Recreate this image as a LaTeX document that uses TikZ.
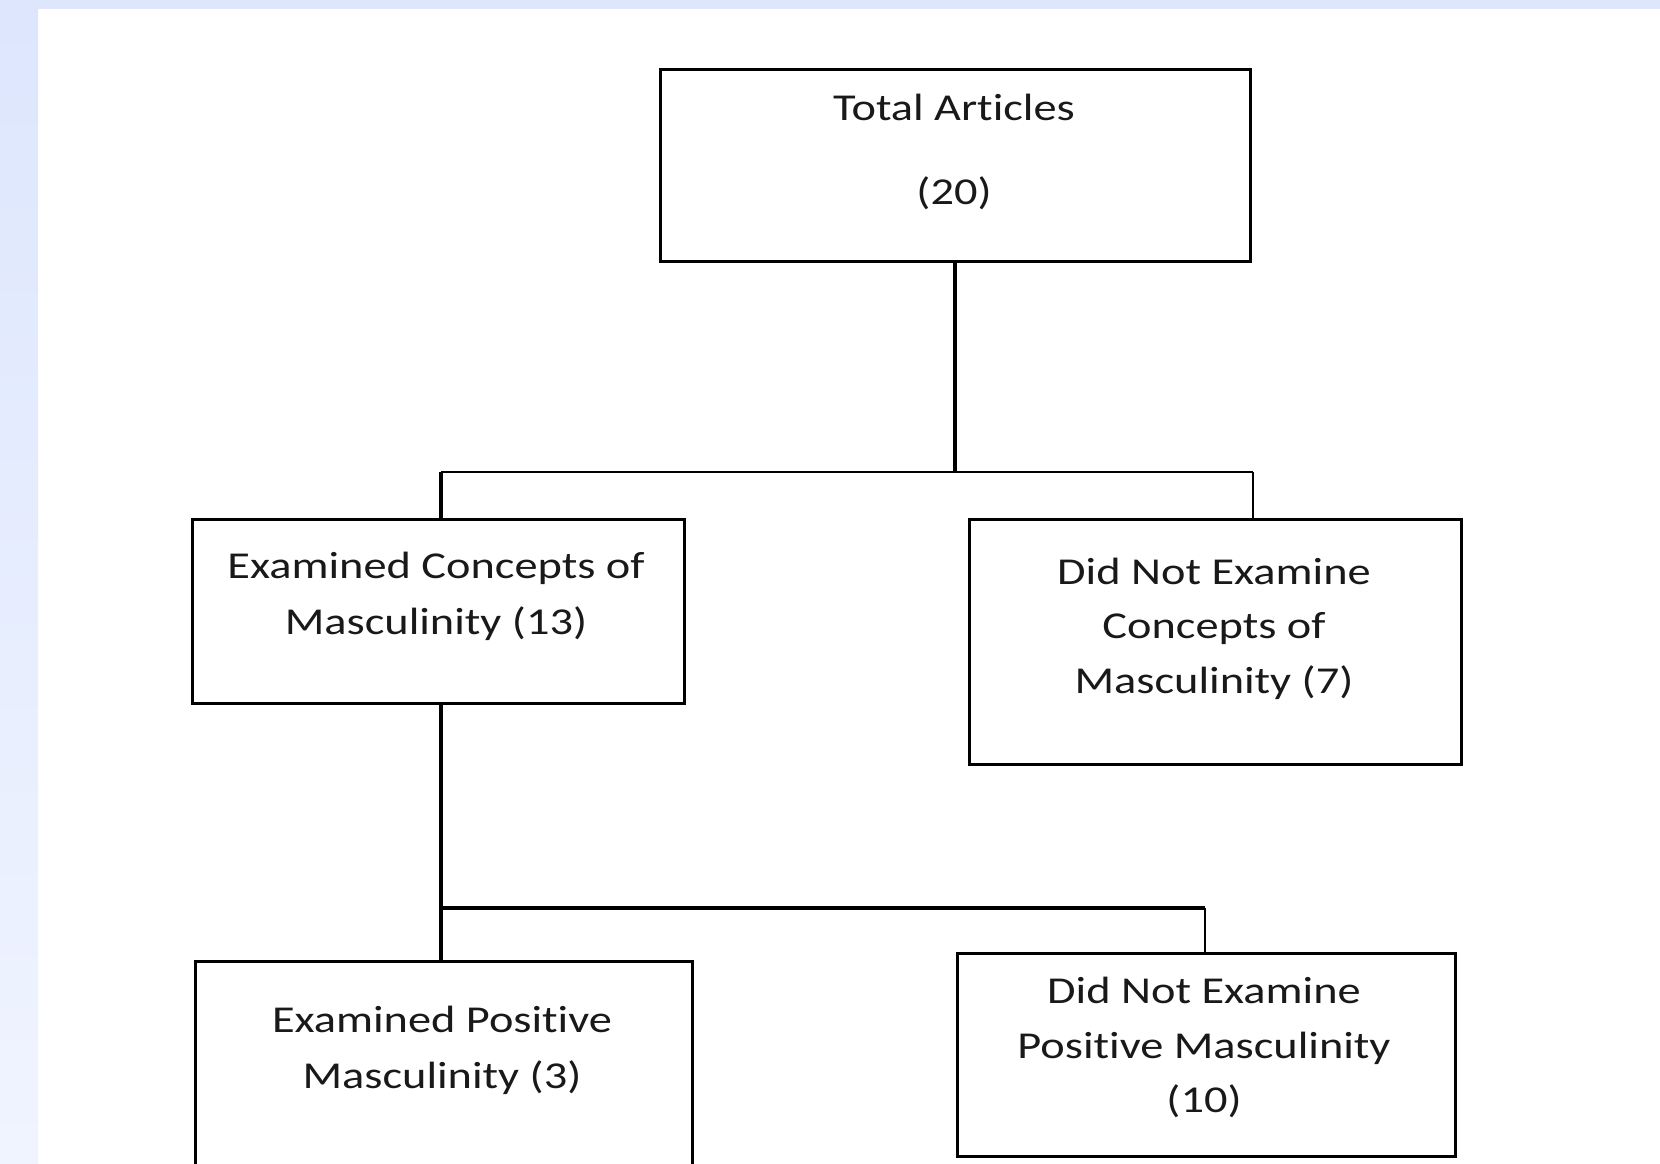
\documentclass[tikz,border=0pt]{standalone}
\usepackage{fontspec}
\newfontfamily\lblfont[FakeStretch=1.22,Ligatures=NoCommon]{Carlito}
\definecolor{bandblue}{HTML}{DDE6FD}
\definecolor{bandlight}{HTML}{F0F4FF}
\tikzset{
  box/.style={draw=black, line width=3pt, fill=none, inner sep=0pt},
  conn/.style={draw=black, line width=3.4pt},
  hconn/.style={draw=black, line width=2.6pt},
  lbl/.style={font=\lblfont\fontsize{38}{55}\selectfont, anchor=base, inner sep=0pt, text=black!90}
}
\begin{document}
\begin{tikzpicture}[x=1pt,y=-1pt]
\useasboundingbox (0,0) rectangle (1660,1164);
\clip (0,0) rectangle (1660,1164);
\fill[white] (0,0) rectangle (1660,1164);
\fill[bandblue] (0,0) rectangle (1660,9);
\shade[top color=bandblue, bottom color=bandlight] (0,0) rectangle (38,1164);

% boxes
\node[box, minimum width=590pt, minimum height=192pt] (top) at (955,165.5) {};
\node[box, minimum width=492pt, minimum height=184pt] (B) at (438,611) {};
\node[box, minimum width=492pt, minimum height=245pt] (C) at (1215,641.5) {};
\node[box, minimum width=497pt, minimum height=240pt] (D) at (443.5,1081) {};
\node[box, minimum width=498pt, minimum height=203pt] (E) at (1206,1054.5) {};

% texts
\node[lbl] (ta) at (954,121) {Total Articles};
\node[lbl] (tb) at (954,204) {(20)};
\node[lbl] (ba) at (436,578) {Examined Concepts of};
\node[lbl] (bb) at (436,634) {Masculinity (13)};
\node[lbl] (ca) at (1214,584) {Did Not Examine};
\node[lbl] (cb) at (1214,638) {Concepts of};
\node[lbl] (cc) at (1214,693) {Masculinity (7)};
\node[lbl] (da) at (442,1032) {Examined Positive};
\node[lbl] (db) at (442,1088) {Masculinity (3)};
\node[lbl] (ea) at (1204,1003) {Did Not Examine};
\node[lbl] (eb) at (1204,1058) {Positive Masculinity};
\node[lbl] (ec) at (1204,1112) {(10)};

% connectors
\coordinate (jl) at (441,472);
\coordinate (jr) at (1253,472);
\coordinate (kl) at (441,908);
\coordinate (kr) at (1205,908);
\draw[conn] (top.south) -- (top.south |- jl);
\draw[hconn] (jl) -- (jr);
\draw[conn] (jl) -- (jl |- B.north);
\draw[hconn] (jr) -- (jr |- C.north);
\draw[conn] (jl |- B.south) -- (jl |- D.north);
\draw[conn] (kl) -- (kr);
\draw[hconn] (kr) -- (kr |- E.north);
\end{tikzpicture}
\end{document}
